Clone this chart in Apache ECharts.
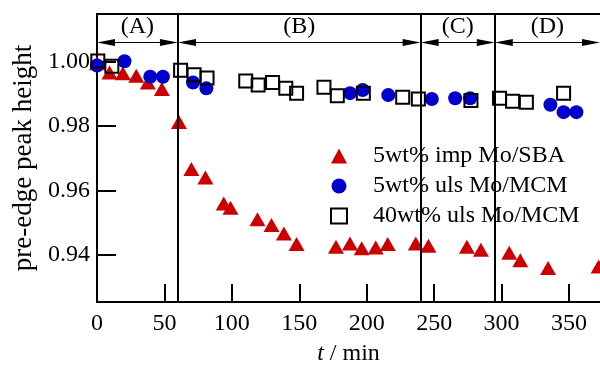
<!DOCTYPE html>
<html>
<head>
<meta charset="utf-8">
<script src="https://cdn.jsdelivr.net/npm/echarts@6/dist/echarts.min.js"></script>
<style>
  html, body { margin: 0; padding: 0; background: #fff; }
  #chart { width: 600px; height: 371px; }
</style>
</head>
<body>
<div id="chart"></div>
<script>
// 5wt% imp Mo/SBA
const impX = [0, 9.3, 19.2, 29.1, 37.7, 48.1, 60.8, 70, 80.4, 94, 99, 119, 129.4, 138.6, 148,
  177.2, 187.6, 196.3, 206.7, 215.6, 236.4, 245.8, 274.3, 284.7, 305.7, 313.9, 334.5, 372];
const impY = [0.9995, 0.9966, 0.9964, 0.9956, 0.9935, 0.9915, 0.9812, 0.9666, 0.9640, 0.9559, 0.9546,
  0.9510, 0.9492, 0.9466, 0.9433, 0.9425, 0.9435, 0.9420, 0.9422, 0.9433, 0.9435, 0.9428, 0.9425,
  0.9415, 0.9406, 0.9383, 0.9359, 0.9363];

// 5wt% uls Mo/MCM
const ulsX = [0, 20.4, 39.5, 48.9, 71.2, 81.1, 187.6, 197, 216, 248.3, 265.6, 276.7, 336.2, 346, 355.5];
const ulsY = [0.9988, 1.0001, 0.9953, 0.9953, 0.9935, 0.9917, 0.9902, 0.9912, 0.9896, 0.9884, 0.9886,
  0.9886, 0.9866, 0.9843, 0.9843];

// 40wt% uls Mo/MCM
const uls40X = [0.6, 11, 62, 72, 81.6, 110.3, 119.5, 130.2, 140, 148, 168.3, 178.2, 197.5, 226.7, 238.3,
  277.3, 298.5, 308.2, 318.4, 346];
const uls40Y = [1.0002, 0.9986, 0.9973, 0.9959, 0.9949, 0.9940, 0.9927, 0.9935, 0.9917, 0.9902, 0.9920,
  0.9894, 0.9902, 0.9889, 0.9884, 0.9879, 0.9886, 0.9877, 0.9874, 0.9902];

const seriesNames = ['5wt% imp Mo/SBA', '5wt% uls Mo/MCM', '40wt% uls Mo/MCM'];

// stage boundaries (min) and labels
const stageBounds = [0, 60, 240, 295, 373];
const stageLabels = ['(A)', '(B)', '(C)', '(D)'];
const arrowY = 1.00595;

const xTicks = [0, 50, 100, 150, 200, 250, 300, 350];
const yTicks = [0.94, 0.96, 0.98, 1.00];
const xMin = 0, xMax = 373;
const yMin = 0.9253, yMax = 1.0148;

const zip = (xs, ys) => xs.map((x, i) => [x, ys[i]]);

const serifFont = 'Liberation Serif';
const chart = echarts.init(document.getElementById('chart'));

// arrow heads are centred on their end points, so pull the ends in by half a head
const headLen = 18;
const gridLeft = 97, gridRight = 600;
const headUnits = (headLen / 2) * (xMax - xMin) / (gridRight - gridLeft);

const arrows = stageLabels.map((lab, i) => [
  { coord: [stageBounds[i] + headUnits, arrowY], name: lab },
  { coord: [stageBounds[i + 1] - headUnits, arrowY] }
]);

const option = {
  animation: false,
  textStyle: { fontFamily: serifFont },
  grid: { left: gridLeft, right: 0, top: 14, bottom: 66 },
  legend: {
    data: seriesNames,
    orient: 'vertical',
    left: 326,
    top: 142,
    itemGap: 6,
    itemWidth: 16,
    itemHeight: 15,
    backgroundColor: '#fff',
    padding: [2, 4, 4, 4],
    textStyle: { fontFamily: serifFont, fontSize: 24, color: '#000', padding: [0, 0, 0, 21] }
  },
  xAxis: [
    {
      type: 'value',
      min: xMin,
      max: xMax,
      name: '{i|t} / min',
      nameLocation: 'middle',
      nameGap: 40,
      nameTextStyle: {
        fontFamily: serifFont, fontSize: 24, color: '#000',
        rich: { i: { fontFamily: serifFont, fontSize: 24, fontStyle: 'italic', color: '#000' } }
      },
      axisLine: { lineStyle: { color: '#000', width: 2 } },
      axisTick: { inside: true, length: 18, customValues: xTicks, lineStyle: { color: '#000', width: 2 } },
      axisLabel: { customValues: xTicks, fontFamily: serifFont, fontSize: 24, color: '#000', margin: 10 },
      splitLine: { show: false }
    },
    {
      // top edge of the frame
      type: 'value',
      position: 'top',
      min: xMin,
      max: xMax,
      axisLine: { show: true, lineStyle: { color: '#000', width: 2 } },
      axisTick: { show: false },
      axisLabel: { show: false },
      splitLine: { show: false }
    }
  ],
  yAxis: {
    type: 'value',
    min: yMin,
    max: yMax,
    name: 'pre-edge peak height',
    nameLocation: 'middle',
    nameGap: 60,
    nameTextStyle: { fontFamily: serifFont, fontSize: 27, color: '#000' },
    axisLine: { show: true, lineStyle: { color: '#000', width: 2 } },
    axisTick: { inside: true, length: 19, customValues: yTicks, lineStyle: { color: '#000', width: 2 } },
    axisLabel: {
      customValues: yTicks, fontFamily: serifFont, fontSize: 24, color: '#000', margin: 7,
      formatter: v => v.toFixed(2)
    },
    splitLine: { show: false }
  },
  series: [
    {
      name: 'frame',
      type: 'line',
      data: [],
      z: 1,
      markLine: {
        silent: true,
        symbol: 'none',
        animation: false,
        label: { show: false },
        lineStyle: { color: '#000', width: 2, type: 'solid' },
        data: stageBounds.slice(1, 4).map(v => ({ xAxis: v }))
      }
    },
    {
      name: 'arrows',
      type: 'line',
      data: [],
      z: 1,
      markLine: {
        silent: true,
        animation: false,
        symbol: ['triangle', 'triangle'],
        symbolSize: [7, headLen],
        lineStyle: { color: '#000', width: 1, type: 'solid' },
        itemStyle: { color: '#000' },
        label: {
          show: true,
          formatter: '{b}',
          position: 'insideMiddleTop',
          distance: 4,
          fontFamily: serifFont,
          fontSize: 24,
          color: '#000'
        },
        data: arrows
      }
    },
    {
      name: seriesNames[0],
      type: 'scatter',
      symbol: 'triangle',
      symbolSize: [16, 14],
      itemStyle: { color: '#cc0000', opacity: 1 },
      data: zip(impX, impY),
      z: 2
    },
    {
      name: seriesNames[1],
      type: 'scatter',
      symbol: 'circle',
      symbolSize: 14,
      itemStyle: { color: '#0000cc', opacity: 1 },
      data: zip(ulsX, ulsY),
      z: 3
    },
    {
      name: seriesNames[2],
      type: 'scatter',
      symbol: 'rect',
      symbolSize: 13,
      itemStyle: { color: 'rgba(0,0,0,0)', borderColor: '#000', borderWidth: 2, opacity: 1 },
      data: zip(uls40X, uls40Y),
      z: 4
    }
  ]
};

chart.setOption(option);

// redraw once the serif face is ready so every label picks it up
if (document.fonts && document.fonts.load) {
  document.fonts.load('24px "Liberation Serif"').then(() => {
    chart.setOption(option, true);
  });
}
</script>
</body>
</html>
